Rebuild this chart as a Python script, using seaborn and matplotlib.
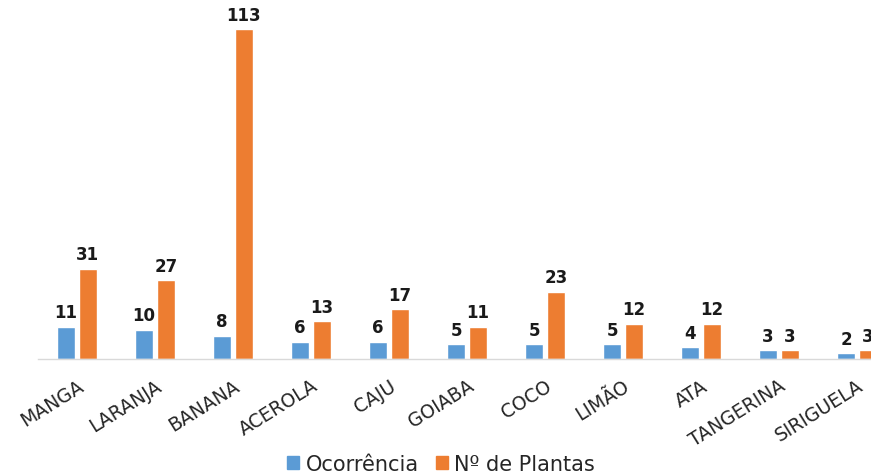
import numpy as np
import pandas as pd
import matplotlib
matplotlib.use('Agg')
import matplotlib.pyplot as plt
import seaborn as sns

# dados do grafico
frutas = ['MANGA', 'LARANJA', 'BANANA', 'ACEROLA', 'CAJU', 'GOIABA', 'COCO',
          'LIMÃO', 'ATA', 'TANGERINA', 'SIRIGUELA']
ocorrencia = [11, 10, 8, 6, 6, 5, 5, 5, 4, 3, 2]
n_plantas = [31, 27, 113, 13, 17, 11, 23, 12, 12, 3, 3]
series = ['Ocorrência', 'Nº de Plantas']
cores = ['#5B9BD5', '#ED7D31']

df = pd.DataFrame({
    'fruta': frutas * 2,
    'valor': ocorrencia + n_plantas,
    'serie': [series[0]] * len(frutas) + [series[1]] * len(frutas),
})

sns.set_style('white')
plt.rcParams['font.family'] = ['DejaVu Sans']

W, H = 871, 477
fig = plt.figure(figsize=(W / 100, H / 100), dpi=100)
# eixo em pixels: esquerda 38, base 360, topo 10
ax = fig.add_axes([38 / W, (H - 360) / H, (871 - 38) / W, 350 / H])

sns.barplot(data=df, x='fruta', y='valor', hue='serie', palette=cores,
            width=0.56, gap=0.15, ax=ax, legend=False, saturation=1)

for cont in ax.containers:
    ax.bar_label(cont, padding=4, fontsize=12, fontweight='bold', color='#1a1a1a')

ax.set_xlim(-0.5, 10.18)
ax.set_ylim(0, 120)
ax.set_xlabel('')
ax.set_ylabel('')
ax.set_yticks([])
ax.tick_params(axis='x', length=0, pad=12)
for lab in ax.get_xticklabels():
    lab.set_rotation(32)
    lab.set_ha('right')
    lab.set_va('top')
    lab.set_rotation_mode('anchor')
    lab.set_fontsize(13.5)
    lab.set_color('#262626')
for s in ['top', 'left', 'right']:
    ax.spines[s].set_visible(False)
ax.spines['bottom'].set_color('#D9D9D9')
ax.spines['bottom'].set_linewidth(1)

handles = [plt.Rectangle((0, 0), 1, 1, color=c) for c in cores]
fig.legend(handles, series, loc='lower center', bbox_to_anchor=(441 / W, -0.035),
           ncol=2, frameon=False, fontsize=15, handlelength=0.6, handleheight=0.6,
           handletextpad=0.3, columnspacing=0.8, labelcolor='#262626')

fig.savefig('out.png', dpi=100)
